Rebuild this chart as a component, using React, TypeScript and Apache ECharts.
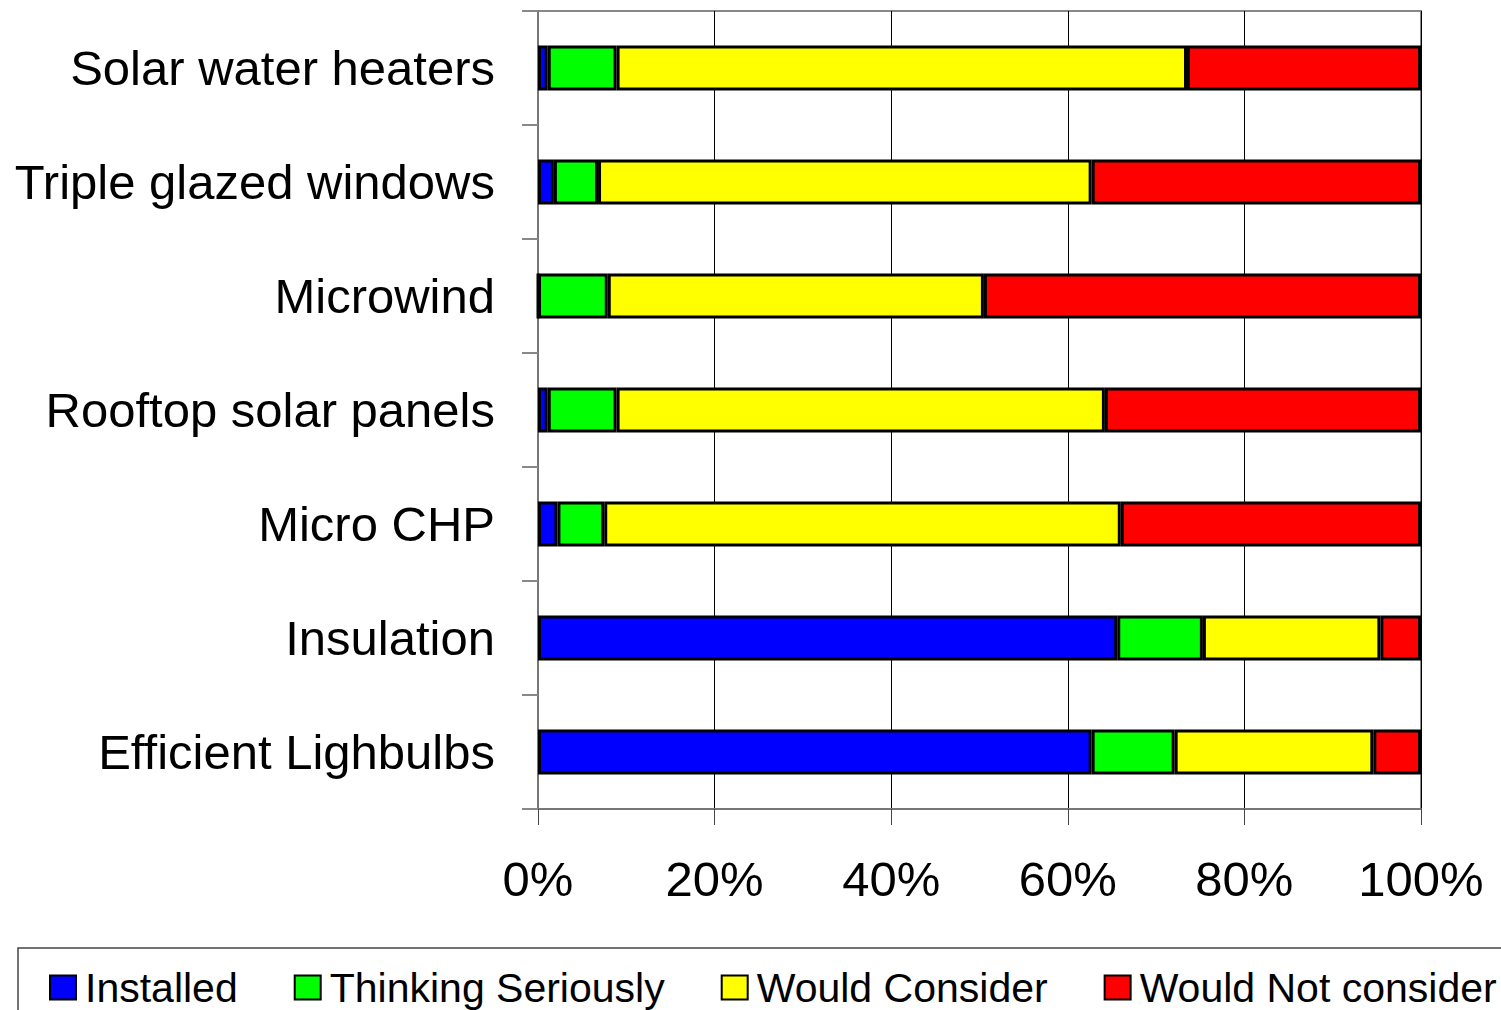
import React, { useEffect, useRef } from "react";
import * as echarts from "echarts";

const categories = [
  "Solar water heaters",
  "Triple glazed windows",
  "Microwind",
  "Rooftop solar panels",
  "Micro CHP",
  "Insulation",
  "Efficient Lighbulbs",
];
const seriesNames = ["Installed", "Thinking Seriously", "Would Consider", "Would Not consider"];
const installed = [1.1, 1.8, 0, 1.1, 2.2, 65.6, 62.7];
const thinkingSeriously = [7.8, 5.0, 7.9, 7.8, 5.3, 9.7, 9.4];
const wouldConsider = [64.6, 55.9, 42.6, 55.3, 58.5, 20.1, 22.5];
const wouldNotConsider = [26.5, 37.3, 49.5, 35.8, 34.0, 4.6, 5.4];
const xTickLabels = ["0%", "20%", "40%", "60%", "80%", "100%"];
const colors = ["#0000FF", "#00FF00", "#FFFF00", "#FF0000"];

const FONT = "'Liberation Sans', Arial, sans-serif";

export default function App() {
  const ref = useRef<HTMLDivElement>(null);
  useEffect(() => {
    if (!ref.current) return;
    const chart = echarts.init(ref.current, undefined, { renderer: "svg" });
    const values = [installed, thinkingSeriously, wouldConsider, wouldNotConsider];
    chart.setOption({
      animation: false,
      backgroundColor: "#ffffff",
      textStyle: { fontFamily: FONT, color: "#000" },
      grid: {
        left: 538,
        right: 80,
        top: 11,
        bottom: 201,
        show: true,
        borderColor: "#888",
        borderWidth: 2,
        containLabel: false,
      },
      xAxis: {
        type: "value",
        min: 0,
        max: 100,
        interval: 20,
        axisLine: { show: true, lineStyle: { color: "#777", width: 2 } },
        axisTick: { show: true, length: 16, lineStyle: { color: "#444", width: 1 } },
        splitLine: { show: true, lineStyle: { color: "#000", width: 1 } },
        axisLabel: {
          fontSize: 49,
          fontFamily: FONT,
          color: "#000",
          margin: 45,
          formatter: (v: number) => xTickLabels[Math.round(v / 20)] ?? "",
        },
      },
      yAxis: {
        type: "category",
        data: categories,
        inverse: true,
        axisLine: { show: true, lineStyle: { color: "#777", width: 2 } },
        axisTick: { show: true, length: 16, lineStyle: { color: "#888", width: 2 } },
        splitLine: { show: false },
        axisLabel: { fontSize: 49, fontFamily: FONT, color: "#000", margin: 43 },
      },
      legend: {
        left: 44,
        top: 962,
        width: 2000,
        itemWidth: 26,
        itemHeight: 24,
        itemGap: 56,
        icon: "rect",
        data: seriesNames,
        textStyle: { fontSize: 41, fontFamily: FONT, color: "#000", padding: [0, 0, 0, 4] },
      },
      graphic: [
        {
          type: "rect",
          shape: { x: 18, y: 948, width: 1600, height: 200 },
          style: { fill: "none", stroke: "#444", lineWidth: 1.5 },
          silent: true,
        },
      ],
      series: seriesNames.map((name, i) => ({
        name,
        type: "bar",
        stack: "total",
        barWidth: 45,
        data: values[i],
        itemStyle: { color: colors[i], borderColor: "#000", borderWidth: 3 },
      })),
    });
    return () => chart.dispose();
  }, []);
  return (
    <div
      ref={ref}
      style={{ position: "absolute", left: 0, top: 0, width: 1501, height: 1010 }}
    />
  );
}
